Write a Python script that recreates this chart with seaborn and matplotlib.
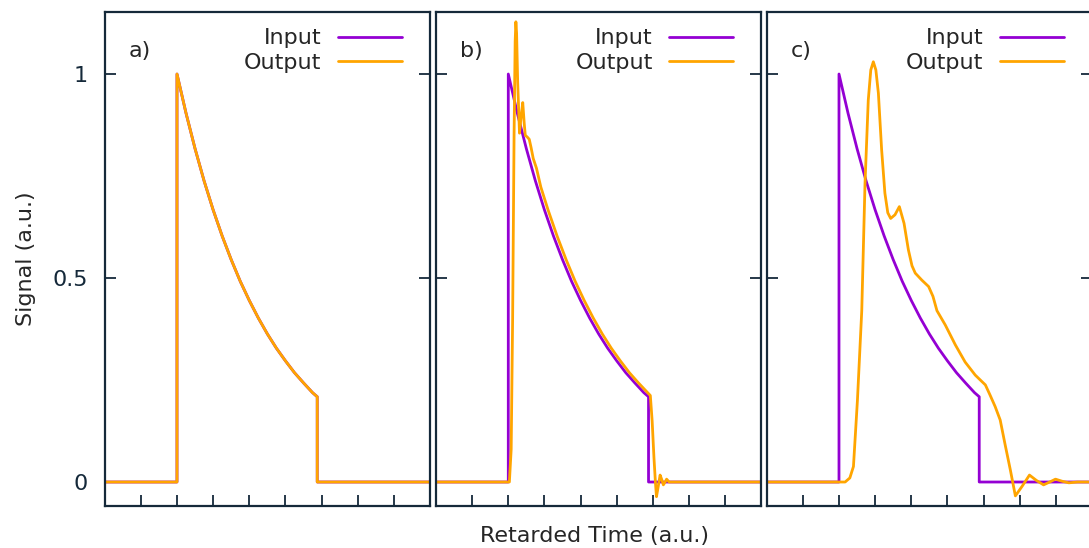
import matplotlib
matplotlib.use("Agg")
import matplotlib.pyplot as plt
import seaborn as sns
import pandas as pd

# ---------------- data ----------------
input_x = [0.0, 2.0, 2.0, 2.25, 2.5, 2.75, 3.0, 3.25, 3.5, 3.75, 4.0, 4.25,
           4.5, 4.75, 5.0, 5.25, 5.5, 5.75, 5.88, 5.88, 9.0]
input_y = [0.0, 0.0, 1.0, 0.904, 0.817, 0.738, 0.667, 0.603, 0.545, 0.492,
           0.445, 0.402, 0.363, 0.328, 0.297, 0.268, 0.243, 0.219, 0.209, 0.0, 0.0]

out_a_x = input_x
out_a_y = input_y

out_b_x = [0.0, 2.03, 2.08, 2.12, 2.16, 2.19, 2.21, 2.23, 2.26, 2.31, 2.36,
           2.40, 2.44, 2.47, 2.53, 2.58, 2.63, 2.69, 2.78, 2.9, 3.1, 3.35,
           3.6, 3.85, 4.1, 4.35, 4.6, 4.85, 5.1, 5.35, 5.6, 5.93, 5.98, 6.03,
           6.07, 6.1, 6.15, 6.2, 6.25, 6.29, 6.34, 6.38, 6.45, 6.55, 9.0]
out_b_y = [0.0, 0.0, 0.08, 0.4, 0.85, 1.08, 1.128, 1.10, 0.98, 0.855, 0.90,
           0.93, 0.88, 0.85, 0.845, 0.84, 0.82, 0.793, 0.769, 0.723, 0.667, 0.603,
           0.545, 0.492, 0.445, 0.402, 0.363, 0.328, 0.297, 0.268, 0.243, 0.212,
           0.15, 0.06, 0.0, -0.036, -0.01, 0.017, 0.005, -0.007, 0.0, 0.007,
           0.0, 0.0, 0.0]

out_c_x = [0.0, 2.17, 2.30, 2.40, 2.51, 2.63, 2.72, 2.81, 2.88, 2.95, 3.02,
           3.09, 3.18, 3.27, 3.35, 3.43, 3.55, 3.67, 3.80, 3.92, 4.02, 4.11,
           4.29, 4.48, 4.60, 4.71, 4.94, 5.22, 5.49, 5.77, 6.05, 6.18, 6.32,
           6.46, 6.6, 6.74, 6.88, 7.07, 7.27, 7.46, 7.66, 7.83, 7.99, 8.17,
           8.36, 8.6, 9.0]
out_c_y = [0.0, 0.0, 0.01, 0.038, 0.2, 0.42, 0.732, 0.936, 1.01, 1.03, 1.01,
           0.953, 0.814, 0.708, 0.66, 0.646, 0.655, 0.675, 0.634, 0.569, 0.53,
           0.512, 0.495, 0.479, 0.455, 0.42, 0.385, 0.336, 0.294, 0.262, 0.238,
           0.213, 0.185, 0.152, 0.09, 0.03, -0.034, -0.01, 0.017, 0.004, -0.007,
           0.0, 0.007, 0.002, -0.002, 0.0, 0.0]

panel_labels = ["a)", "b)", "c)"]
series_names = ["Input", "Output"]
y_ticks = [0, 0.5, 1]
y_ticklabels = ["0", "0.5", "1"]
x_ticks = [1, 2, 3, 4, 5, 6, 7, 8]

# ---------------- style ----------------
sns.set_theme(style="white")
plt.rcParams["font.family"] = ["DejaVu Sans"]
spine_col = "#15293a"
palette = {"Input": "#9400D3", "Output": "#FFA500"}
FS = 16

fig = plt.figure(figsize=(10.89, 5.48), dpi=100)
W, H = 1089.0, 548.0
ax_w = 325.3 / W
ax_b = (548 - 506) / H
ax_h = 494 / H
lefts = [104.7 / W, 436.0 / W, 766.7 / W]

outputs = [(out_a_x, out_a_y), (out_b_x, out_b_y), (out_c_x, out_c_y)]

for i, (ox, oy) in enumerate(outputs):
    ax = fig.add_axes([lefts[i], ax_b, ax_w, ax_h])
    df = pd.concat([
        pd.DataFrame({"x": input_x, "y": input_y, "s": "Input"}),
        pd.DataFrame({"x": ox, "y": oy, "s": "Output"}),
    ], ignore_index=True)
    sns.lineplot(data=df, x="x", y="y", hue="s", hue_order=series_names,
                 palette=palette, sort=False, estimator=None, units="s",
                 linewidth=2, ax=ax, legend=False)
    ax.set_xlim(0, 9)
    ax.set_ylim(-0.0588, 1.152)
    ax.set_xticks(x_ticks)
    ax.set_xticklabels([])
    ax.set_yticks(y_ticks)
    if i == 0:
        ax.set_yticklabels(y_ticklabels, fontsize=FS, color=spine_col)
        ax.set_ylabel("Signal (a.u.)", fontsize=FS, labelpad=12)
    else:
        ax.set_yticklabels([])
        ax.set_ylabel("")
    ax.set_xlabel("")
    ax.tick_params(axis="both", direction="in", length=8, width=1.3,
                   color=spine_col, left=True, right=True, bottom=True,
                   top=False, pad=12)
    for sp in ax.spines.values():
        sp.set_color(spine_col)
        sp.set_linewidth(1.6)
    ax.text(0.075, 0.922, panel_labels[i], transform=ax.transAxes,
            fontsize=FS, ha="left", va="center")
    handles = [plt.Line2D([], [], color=palette[n], lw=2) for n in series_names]
    ax.legend(handles, series_names, loc="upper right", frameon=False,
              markerfirst=False, fontsize=FS, handlelength=2.9,
              handletextpad=0.72, labelspacing=0.2, borderpad=0,
              borderaxespad=0, bbox_to_anchor=(0.914, 0.967))

fig.text(595 / W, 1 - 536 / H, "Retarded Time (a.u.)", fontsize=FS,
         ha="center", va="center")

fig.savefig("out.png", dpi=100)
